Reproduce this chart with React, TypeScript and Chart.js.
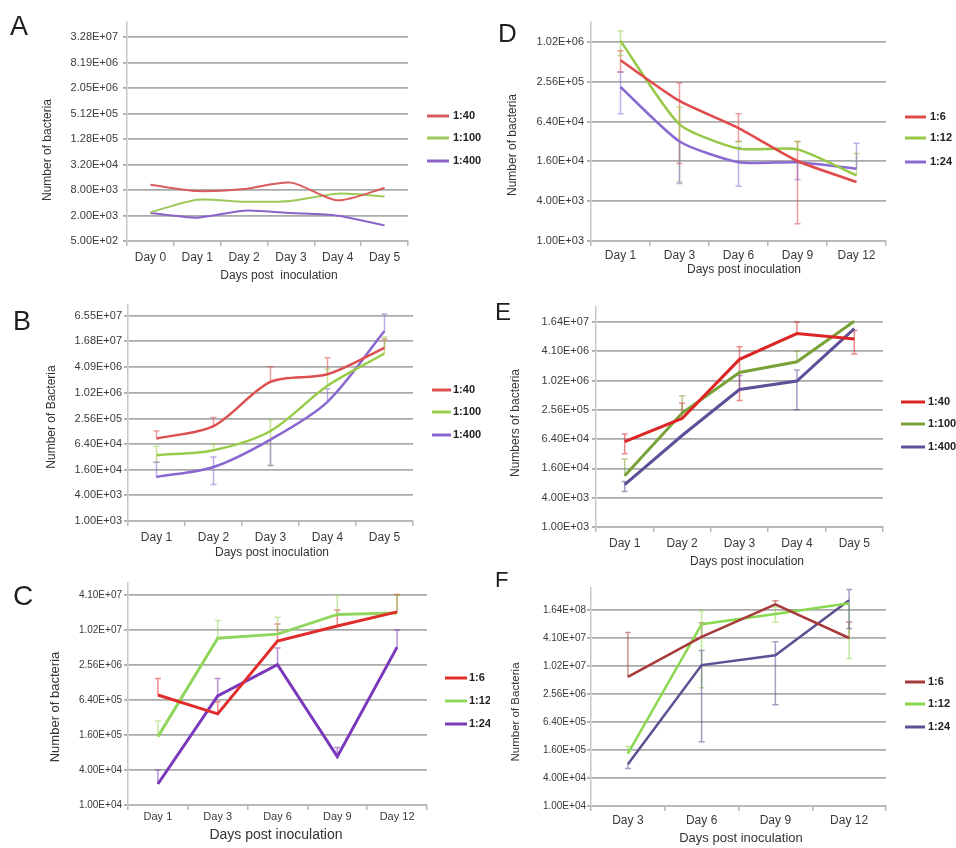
import React, { useEffect, useRef } from "react";
import { Chart, registerables } from "chart.js";
Chart.register(...registerables);

const FONT = "'Liberation Sans', Arial, Helvetica, sans-serif";

// ---------------- DATA ----------------
// Panel A
const catsA = ["Day 0", "Day 1", "Day 2", "Day 3", "Day 4", "Day 5"];
const ticksA = ["3.28E+07", "8.19E+06", "2.05E+06", "5.12E+05", "1.28E+05", "3.20E+04", "8.00E+03", "2.00E+03", "5.00E+02"];
const a40 = [10700, 7550, 8450, 11950, 4560, 8950];
const a100 = [2380, 4740, 4230, 4400, 6550, 5650];
const a400 = [2290, 1780, 2600, 2290, 1980, 1170];

// Panel B
const catsB = ["Day 1", "Day 2", "Day 3", "Day 4", "Day 5"];
const ticksB = ["6.55E+07", "1.68E+07", "4.09E+06", "1.02E+06", "2.56E+05", "6.40E+04", "1.60E+04", "4.00E+03", "1.00E+03"];
const b40 = [87000, 170000, 1860000, 2800000, 11700000];
const b40Hi = [130000, 270000, 4200000, 6800000, 19000000];
const b40Lo = [null, null, null, null, null];
const b100 = [35000, 46000, 130000, 1500000, 8600000];
const b100Hi = [57000, 64000, 240000, 3700000, 21000000];
const b100Lo = [24000, null, 20000, null, null];
const b400 = [10800, 18600, 82000, 630000, 29000000];
const b400Hi = [24000, 32000, null, 1280000, 73000000];
const b400Lo = [null, 7200, 20000, null, null];

// Panel C
const catsC = ["Day 1", "Day 3", "Day 6", "Day 9", "Day 12"];
const ticksC = ["4.10E+07", "1.02E+07", "2.56E+06", "6.40E+05", "1.60E+05", "4.00E+04", "1.00E+04"];
const c6 = [780000, 370000, 6600000, 12000000, 21000000];
const c6Hi = [1500000, 600000, 13000000, 22600000, 42000000];
const c12 = [150000, 7400000, 8700000, 19000000, 20000000];
const c12Hi = [280000, 15000000, 17000000, 40000000, 40000000];
const c24 = [23000, 750000, 2600000, 68000, 5200000];
const c24Hi = [40000, 1500000, 5000000, 98000, 10200000];

// Panel D
const catsD = ["Day 1", "Day 3", "Day 6", "Day 9", "Day 12"];
const ticksD = ["1.02E+06", "2.56E+05", "6.40E+04", "1.60E+04", "4.00E+03", "1.00E+03"];
const d6 = [540000, 131000, 51000, 16200, 7800];
const d6Hi = [750000, 245000, 84000, 32000, null];
const d6Lo = [360000, 14800, 32000, 1830, null];
const d12 = [1060000, 58000, 24900, 24300, 9800];
const d12Hi = [1500000, 106000, 32000, 32000, 21000];
const d12Lo = [640000, 7800, null, null, null];
const d24 = [213000, 32000, 15500, 15500, 12400];
const d24Hi = [360000, null, 26000, null, 30000];
const d24Lo = [84000, 7400, 6700, 8500, null];

// Panel E
const catsE = ["Day 1", "Day 2", "Day 3", "Day 4", "Day 5"];
const ticksE = ["1.64E+07", "4.10E+06", "1.02E+06", "2.56E+05", "6.40E+04", "1.60E+04", "4.00E+03", "1.00E+03"];
const e40 = [57000, 170000, 2800000, 9500000, 7300000];
const e40Hi = [82000, 350000, 5100000, 16400000, 11000000];
const e40Lo = [32000, null, 400000, null, 3600000];
const e100 = [11300, 220000, 1500000, 2500000, 17000000];
const e100Hi = [25000, 500000, null, 4100000, null];
const e100Lo = [null, null, null, null, null];
const e400 = [7400, 76000, 670000, 1000000, 12000000];
const e400Hi = [8600, null, 1300000, 1700000, null];
const e400Lo = [5400, null, null, 256000, null];

// Panel F
const catsF = ["Day 3", "Day 6", "Day 9", "Day 12"];
const ticksF = ["1.64E+08", "4.10E+07", "1.02E+07", "2.56E+06", "6.40E+05", "1.60E+05", "4.00E+04", "1.00E+04"];
const f6 = [6000000, 43500000, 216000000, 41000000];
const f6Hi = [54000000, 87000000, 260000000, 91000000];
const f6Lo = [null, null, null, null];
const f12 = [134000, 81000000, 134000000, 230000000];
const f12Hi = [190000, 157000000, 191000000, null];
const f12Lo = [null, 3500000, 89000000, 14800000];
const f24 = [79000, 10700000, 17500000, 267000000];
const f24Hi = [null, 22000000, 34000000, 450000000];
const f24Lo = [64000, 240000, 1500000, 66000000];

const seriesLabels1 = ["1:40", "1:100", "1:400"];
const seriesLabels2 = ["1:6", "1:12", "1:24"];

// ---------------- LAYOUT / STYLE ----------------
const panels: any[] = [
  {
    letter: { text: "A", x: 10, y: 35, size: 27 },
    cats: catsA, ticks: ticksA,
    series: [
      { label: seriesLabels1[0], values: a40 },
      { label: seriesLabels1[1], values: a100 },
      { label: seriesLabels1[2], values: a400 },
    ],
    colors: ["#d95b5b", "#9cc95a", "#8b64c9"], lineWidth: 2, tension: 0.25,
    canvas: { x: 0, y: 0, w: 490, h: 290 },
    area: { l: 127, r: 408, t: 22, b: 241, topTick: 37 },
    yGap: 9, tickFont: 11, catFont: 12, catPad: 4,
    yTitle: { text: "Number of bacteria", x: 48, y: 150, size: 12 },
    xTitle: { text: "Days post  inoculation", x: 279, y: 276, size: 12 },
    legend: { x1: 427, x2: 449, tx: 453, ys: [116, 138, 161], size: 11 },
  },
  {
    letter: { text: "D", x: 498, y: 42, size: 26 },
    cats: catsD, ticks: ticksD,
    series: [
      { label: seriesLabels2[0], values: d6, hi: d6Hi, lo: d6Lo },
      { label: seriesLabels2[1], values: d12, hi: d12Hi, lo: d12Lo },
      { label: seriesLabels2[2], values: d24, hi: d24Hi, lo: d24Lo },
    ],
    colors: ["#e04a4a", "#96c846", "#8a6ad2"], lineWidth: 2.5, tension: 0.2,
    canvas: { x: 478, y: 0, w: 478, h: 290 },
    area: { l: 591, r: 886, t: 22, b: 241, topTick: 42 },
    yGap: 7, tickFont: 11, catFont: 12, catPad: 2,
    yTitle: { text: "Number of bacteria", x: 513, y: 145, size: 12 },
    xTitle: { text: "Days post inoculation", x: 744, y: 270, size: 12 },
    legend: { x1: 905, x2: 926, tx: 930, ys: [117, 138, 162], size: 11 },
  },
  {
    letter: { text: "B", x: 13, y: 330, size: 27 },
    cats: catsB, ticks: ticksB,
    series: [
      { label: seriesLabels1[0], values: b40, hi: b40Hi, lo: b40Lo },
      { label: seriesLabels1[1], values: b100, hi: b100Hi, lo: b100Lo },
      { label: seriesLabels1[2], values: b400, hi: b400Hi, lo: b400Lo },
    ],
    colors: ["#de5050", "#98cc48", "#8a66d0"], lineWidth: 2.5, tension: 0.3,
    canvas: { x: 0, y: 280, w: 490, h: 290 },
    area: { l: 128, r: 413, t: 305, b: 521, topTick: 316 },
    yGap: 6, tickFont: 11, catFont: 12, catPad: 4,
    yTitle: { text: "Number of Bacteria", x: 52, y: 417, size: 12 },
    xTitle: { text: "Days post inoculation", x: 272, y: 553, size: 12 },
    legend: { x1: 432, x2: 451, tx: 453, ys: [390, 412, 435], size: 11 },
  },
  {
    letter: { text: "E", x: 495, y: 320, size: 24 },
    cats: catsE, ticks: ticksE,
    series: [
      { label: seriesLabels1[0], values: e40, hi: e40Hi, lo: e40Lo },
      { label: seriesLabels1[1], values: e100, hi: e100Hi, lo: e100Lo },
      { label: seriesLabels1[2], values: e400, hi: e400Hi, lo: e400Lo },
    ],
    colors: ["#dc2626", "#7ba23a", "#5f4e98"], lineWidth: 3, tension: 0,
    canvas: { x: 478, y: 280, w: 478, h: 290 },
    area: { l: 596, r: 883, t: 307, b: 527, topTick: 322 },
    yGap: 7, tickFont: 11, catFont: 12, catPad: 4,
    yTitle: { text: "Numbers of bacteria", x: 516, y: 423, size: 12 },
    xTitle: { text: "Days post inoculation", x: 747, y: 562, size: 12 },
    legend: { x1: 901, x2: 925, tx: 928, ys: [402, 424, 447], size: 11 },
  },
  {
    letter: { text: "C", x: 13, y: 605, size: 28 },
    cats: catsC, ticks: ticksC,
    series: [
      { label: seriesLabels2[0], values: c6, hi: c6Hi },
      { label: seriesLabels2[1], values: c12, hi: c12Hi },
      { label: seriesLabels2[2], values: c24, hi: c24Hi },
    ],
    colors: ["#e22b2b", "#90d65c", "#7b38ba"], lineWidth: 3, tension: 0,
    canvas: { x: 0, y: 560, w: 490, h: 288 },
    area: { l: 128, r: 427, t: 583, b: 805, topTick: 595 },
    yGap: 6, tickFont: 10, catFont: 11, catPad: 0,
    yTitle: { text: "Number of bacteria", x: 55, y: 707, size: 13 },
    xTitle: { text: "Days post inoculation", x: 276, y: 835, size: 14 },
    legend: { x1: 445, x2: 467, tx: 469, ys: [678, 701, 724], size: 11 },
  },
  {
    letter: { text: "F", x: 495, y: 587, size: 22 },
    cats: catsF, ticks: ticksF,
    series: [
      { label: seriesLabels2[0], values: f6, hi: f6Hi, lo: f6Lo },
      { label: seriesLabels2[1], values: f12, hi: f12Hi, lo: f12Lo },
      { label: seriesLabels2[2], values: f24, hi: f24Hi, lo: f24Lo },
    ],
    colors: ["#a83a3a", "#8ad850", "#5e4e92"], lineWidth: 2.5, tension: 0,
    canvas: { x: 478, y: 560, w: 478, h: 288 },
    area: { l: 591, r: 886, t: 588, b: 806, topTick: 610 },
    yGap: 5, tickFont: 10, catFont: 12, catPad: 2,
    yTitle: { text: "Number of Bacteria", x: 516, y: 712, size: 11.5 },
    xTitle: { text: "Days post inoculation", x: 741, y: 838, size: 13 },
    legend: { x1: 905, x2: 925, tx: 928, ys: [682, 704, 727], size: 11 },
  },
];

function withAlpha(hex: string, a: number) {
  const n = parseInt(hex.slice(1), 16);
  return `rgba(${n >> 16},${(n >> 8) & 255},${n & 255},${a})`;
}

const errorBarPlugin = {
  id: "errbars",
  beforeDatasetsDraw(chart: any) {
    const ctx = chart.ctx;
    const ys = chart.scales.y;
    chart.data.datasets.forEach((ds: any, i: number) => {
      const meta = chart.getDatasetMeta(i);
      ctx.save();
      ctx.strokeStyle = ds.errColor;
      ctx.lineWidth = 1.5;
      ds.data.forEach((v: number, j: number) => {
        const hi = ds.hi ? ds.hi[j] : null;
        const lo = ds.lo ? ds.lo[j] : null;
        if (hi == null && lo == null) return;
        const x = meta.data[j].x;
        const yv = ys.getPixelForValue(v);
        const yh = hi != null ? ys.getPixelForValue(hi) : yv;
        const yl = lo != null ? ys.getPixelForValue(lo) : yv;
        ctx.beginPath();
        ctx.moveTo(x, yh);
        ctx.lineTo(x, yl);
        if (hi != null) { ctx.moveTo(x - 3, yh); ctx.lineTo(x + 3, yh); }
        if (lo != null) { ctx.moveTo(x - 3, yl); ctx.lineTo(x + 3, yl); }
        ctx.stroke();
      });
      ctx.restore();
    });
  },
};

function decorPlugin(p: any) {
  return {
    id: "decor",
    afterDraw(chart: any) {
      const ctx = chart.ctx;
      const ox = p.canvas.x, oy = p.canvas.y;
      ctx.save();
      // panel letter
      ctx.fillStyle = "#1e1e1e";
      ctx.font = `${p.letter.size}px ${FONT}`;
      ctx.textAlign = "left";
      ctx.textBaseline = "alphabetic";
      ctx.fillText(p.letter.text, p.letter.x - ox, p.letter.y - oy);
      // x title
      ctx.fillStyle = "#333";
      ctx.font = `${p.xTitle.size}px ${FONT}`;
      ctx.textAlign = "center";
      ctx.textBaseline = "middle";
      ctx.fillText(p.xTitle.text, p.xTitle.x - ox, p.xTitle.y - oy);
      // y title
      ctx.save();
      ctx.translate(p.yTitle.x - ox, p.yTitle.y - oy);
      ctx.rotate(-Math.PI / 2);
      ctx.font = `${p.yTitle.size}px ${FONT}`;
      ctx.fillText(p.yTitle.text, 0, 0);
      ctx.restore();
      // legend
      chart.data.datasets.forEach((ds: any, i: number) => {
        const y = p.legend.ys[i] - oy;
        ctx.strokeStyle = ds.borderColor;
        ctx.lineWidth = 3;
        ctx.beginPath();
        ctx.moveTo(p.legend.x1 - ox, y);
        ctx.lineTo(p.legend.x2 - ox, y);
        ctx.stroke();
        ctx.fillStyle = "#222";
        ctx.font = `bold ${p.legend.size}px ${FONT}`;
        ctx.textAlign = "left";
        ctx.textBaseline = "middle";
        ctx.fillText(ds.label, p.legend.tx - ox, y);
      });
      ctx.restore();
    },
  };
}

function PanelChart({ p }: { p: any }) {
  const ref = useRef<HTMLCanvasElement>(null);
  useEffect(() => {
    const canvas = ref.current!;
    const tickVals = p.ticks.map(Number).sort((a: number, b: number) => a - b);
    const labelMap = new Map<number, string>(p.ticks.map((t: string) => [Number(t), t]));
    const minV = tickVals[0];
    const topV = tickVals[tickVals.length - 1];
    const span = p.area.b - p.area.topTick;
    const gap = p.area.topTick - p.area.t;
    const lMin = Math.log10(minV), lTop = Math.log10(topV);
    const maxV = Math.pow(10, lTop + ((lTop - lMin) * gap) / span);

    const chart = new Chart(canvas, {
      type: "line",
      data: {
        labels: p.cats,
        datasets: p.series.map((s: any, i: number) => ({
          label: s.label,
          data: s.values,
          borderColor: p.colors[i],
          backgroundColor: p.colors[i],
          borderWidth: p.lineWidth,
          pointRadius: 0,
          pointHoverRadius: 0,
          tension: p.tension,
          fill: false,
          hi: s.hi,
          lo: s.lo,
          errColor: withAlpha(p.colors[i], 0.55),
        })),
      } as any,
      options: {
        animation: false,
        responsive: false,
        devicePixelRatio: 1,
        events: [],
        layout: {
          padding: {
            left: 0,
            bottom: 0,
            top: p.area.t - p.canvas.y,
            right: p.canvas.x + p.canvas.w - p.area.r,
          },
        },
        plugins: { legend: { display: false }, tooltip: { enabled: false }, title: { display: false } },
        scales: {
          x: {
            type: "category",
            offset: true,
            grid: { display: true, offset: true, drawOnChartArea: false, drawTicks: true, tickLength: 5, color: "#b8b8b8", lineWidth: 1.5 },
            border: { color: "#b8b8b8", width: 1.5 },
            ticks: { font: { family: FONT, size: p.catFont }, color: "#3a3a3a", padding: p.catPad, maxRotation: 0, autoSkip: false },
            afterFit: (s: any) => { s.height = p.canvas.y + p.canvas.h - p.area.b; },
          },
          y: {
            type: "logarithmic",
            min: minV,
            max: maxV,
            bounds: "data",
            grid: { color: "#aaaaaa", lineWidth: 1.8, drawTicks: true, tickLength: 4 },
            border: { color: "#c8c8c8", width: 1.5 },
            ticks: {
              autoSkip: false,
              font: { family: FONT, size: p.tickFont },
              color: "#3a3a3a",
              padding: Math.max(p.yGap - 4, 1),
              callback: (v: any) => labelMap.get(Number(v)) ?? "",
            },
            afterBuildTicks: (s: any) => { s.ticks = tickVals.map((v: number) => ({ value: v })); },
            afterFit: (s: any) => { s.width = p.area.l - p.canvas.x; },
          },
        },
      } as any,
      plugins: [errorBarPlugin, decorPlugin(p)],
    });
    return () => chart.destroy();
  }, []);
  return (
    <canvas
      ref={ref}
      width={p.canvas.w}
      height={p.canvas.h}
      style={{ position: "absolute", left: p.canvas.x, top: p.canvas.y, width: p.canvas.w, height: p.canvas.h }}
    />
  );
}

export default function App() {
  return (
    <div style={{ position: "absolute", left: 0, top: 0, width: 956, height: 848, background: "#fff", overflow: "hidden" }}>
      {panels.map((p, i) => (
        <PanelChart key={i} p={p} />
      ))}
    </div>
  );
}
